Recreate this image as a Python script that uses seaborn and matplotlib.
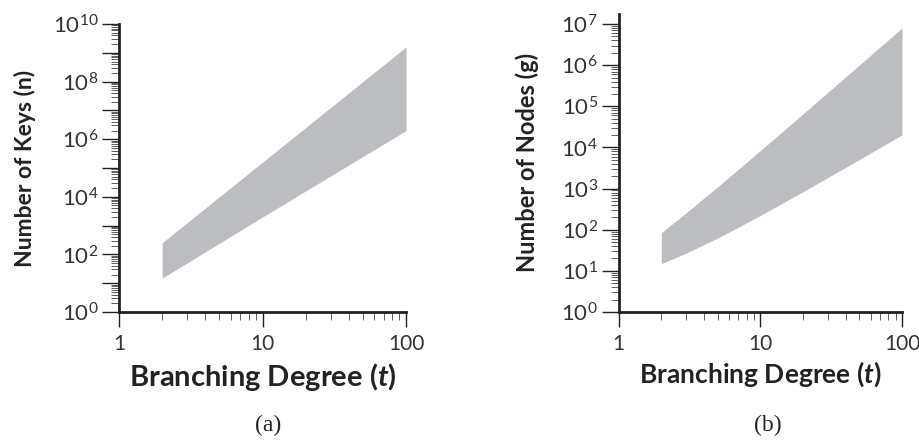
import numpy as np
import pandas as pd
import matplotlib
matplotlib.use("Agg")
import matplotlib.pyplot as plt
import matplotlib.ticker as mticker
import seaborn as sns

# values
t_keys = [2, 10, 100]
keys_low = [15, 2000, 2000000]
keys_high = [255, 160000, 1.6e9]

t_nodes = [2, 3, 5, 7, 10, 15, 20, 30, 50, 70, 100]
nodes_low = [15, 27, 63, 115, 223, 483, 843, 1860, 5100, 9940, 20200]
nodes_high = [85, 259, 1110, 2955, 8420, 27900, 65600, 220000, 1.01e6, 2.76e6, 8.04e6]

keys_df = pd.DataFrame({"t": t_keys, "low": keys_low, "high": keys_high})
nodes_df = pd.DataFrame({"t": t_nodes, "low": nodes_low, "high": nodes_high})

sns.set_style("ticks")
plt.rcParams["font.family"] = ["Lato", "DejaVu Sans"]
plt.rcParams["mathtext.fontset"] = "custom"
plt.rcParams["mathtext.rm"] = "Lato"
plt.rcParams["mathtext.it"] = "Lato:italic:bold"
plt.rcParams["mathtext.bf"] = "Lato:bold"

band = "#bcbdc0"

fig = plt.figure(figsize=(9.19, 4.46), dpi=100)
ax1 = fig.add_axes([0.1295, 0.3004, 0.3123, 0.6457])
ax2 = fig.add_axes([0.6732, 0.3004, 0.3083, 0.6457 * 7.25 / 7])


def style(ax, ymax):
    ax.set_xscale("log")
    ax.set_yscale("log")
    ax.set_xlim(1, 100)
    ax.set_ylim(1, ymax)
    for s in ["top", "right"]:
        ax.spines[s].set_visible(False)
    for s in ["left", "bottom"]:
        ax.spines[s].set_linewidth(2)
        ax.spines[s].set_color("#222222")
    ax.xaxis.set_major_locator(mticker.FixedLocator([1, 10, 100]))
    ax.xaxis.set_major_formatter(mticker.FixedFormatter(["1", "10", "100"]))
    ax.xaxis.set_minor_locator(mticker.LogLocator(base=10, subs=range(2, 10), numticks=20))
    ax.yaxis.set_minor_locator(mticker.LogLocator(base=10, subs=range(2, 10), numticks=30))
    ax.yaxis.set_minor_formatter(mticker.NullFormatter())
    ax.xaxis.set_minor_formatter(mticker.NullFormatter())
    ax.tick_params(which="major", direction="out", length=12, width=1.0,
                   color="#222222", labelsize=16, labelcolor="#333333", pad=3)
    ax.tick_params(which="minor", direction="out", length=6, width=0.6, color="#444444")
    ax.tick_params(axis="x", which="major", length=11, pad=5, labelsize=15)


# (a) keys
ax1.fill_between(keys_df["t"], keys_df["low"], keys_df["high"], color=band, lw=0)
sns.lineplot(data=keys_df, x="t", y="low", ax=ax1, lw=0, color=band)
style(ax1, 1e10)
yk = [10 ** k for k in range(11)]
ax1.set_yticks(yk)
ax1.set_yticklabels([rf"$\mathdefault{{10^{{{k}}}}}$" if k % 2 == 0 else "" for k in range(11)])
ax1.yaxis.set_minor_locator(mticker.LogLocator(base=10, subs=range(2, 10), numticks=30))
ax1.set_ylabel("Number of Keys (n)", fontsize=16.5, fontweight="bold", color="#222222", labelpad=12)
ax1.set_xlabel(r"Branching Degree ($t$)", fontsize=21, fontweight="bold", color="#222222", labelpad=5)

# (b) nodes
ax2.fill_between(nodes_df["t"], nodes_df["low"], nodes_df["high"], color=band, lw=0)
sns.lineplot(data=nodes_df, x="t", y="low", ax=ax2, lw=0, color=band)
style(ax2, 10 ** 7.25)
yn = [10 ** k for k in range(8)]
ax2.set_yticks(yn)
ax2.set_yticklabels([rf"$\mathdefault{{10^{{{k}}}}}$" for k in range(8)])
ax2.yaxis.set_minor_locator(mticker.LogLocator(base=10, subs=range(2, 10), numticks=30))
ax2.set_ylabel("Number of Nodes (g)", fontsize=17, fontweight="bold", color="#222222", labelpad=16)
ax2.set_xlabel(r"Branching Degree ($t$)", fontsize=19, fontweight="bold", color="#222222", labelpad=4)

fig.text(0.292, 0.045, "(a)", family="Liberation Serif", fontsize=17, ha="center", va="center")
fig.text(0.835, 0.045, "(b)", family="Liberation Serif", fontsize=17, ha="center", va="center")

fig.savefig("out.png", dpi=100)
